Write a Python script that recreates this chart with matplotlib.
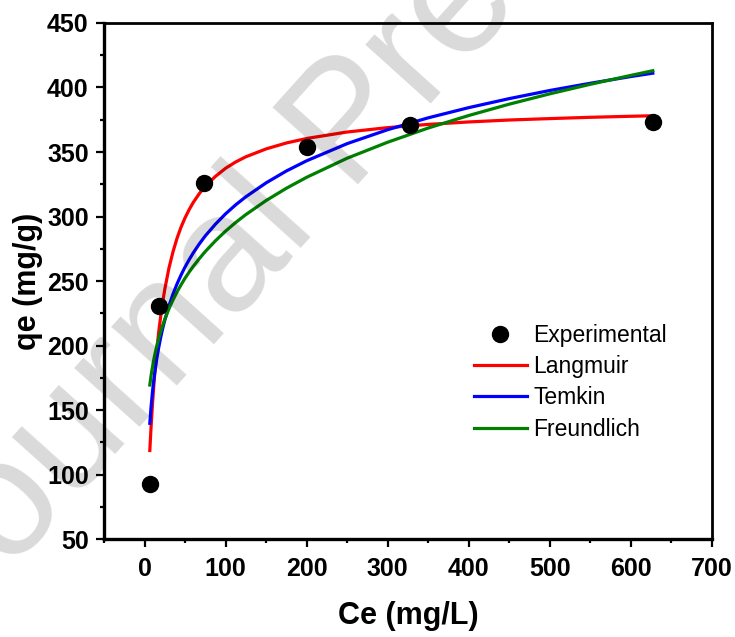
import numpy as np
import matplotlib
matplotlib.use("Agg")
import matplotlib.pyplot as plt
from matplotlib.ticker import MultipleLocator

plt.rcParams['font.family'] = ['Liberation Sans', 'DejaVu Sans']

# experimental points
ce_exp = [7, 18, 73, 200, 328, 627]
qe_exp = [93, 231, 326, 354, 371, 373]

# fitted curves, values
ce_fit = [6.5, 8, 10, 12, 15, 17.5, 20, 22.5, 25, 30, 35, 40, 45, 50, 55, 60,
          67.5, 75, 87.5, 100, 112.5, 125, 150, 175, 200, 250, 300, 350, 400,
          450, 500, 550, 600, 627]
q_langmuir = [118.6, 136.3, 156.6, 173.9, 195.4, 210.6, 223.0, 234.1, 243.7,
              259.7, 272.4, 283.0, 291.7, 299.0, 305.3, 310.8, 317.7, 323.6,
              331.1, 337.4, 342.3, 346.3, 352.4, 357.0, 360.5, 365.5, 368.9,
              371.4, 373.3, 374.8, 375.9, 376.9, 377.7, 378.1]
q_temkin = [139.7, 152.0, 165.3, 176.1, 189.4, 198.5, 206.5, 213.5, 219.7,
            230.5, 239.7, 247.6, 254.6, 260.9, 266.5, 271.7, 278.7, 285.0,
            294.1, 302.1, 309.1, 315.3, 326.1, 335.3, 343.2, 356.5, 367.3,
            376.5, 384.4, 391.4, 397.7, 403.3, 408.5, 411.1]
q_freundlich = [169.4, 176.4, 184.2, 190.9, 199.4, 205.6, 210.9, 215.8, 220.3,
                228.3, 235.2, 241.4, 247.0, 252.2, 256.9, 261.3, 267.3, 272.9,
                281.2, 288.7, 295.4, 301.5, 312.4, 321.9, 330.4, 345.2, 357.6,
                368.6, 378.3, 387.1, 395.1, 402.5, 409.4, 413.0]

fig = plt.figure(figsize=(7.35, 6.37), dpi=100, facecolor='white')
ax = fig.add_axes([0.1415, 0.1538, 0.8272, 0.8101])

ax.plot(ce_exp, qe_exp, 'o', color='black', markersize=11.5, label='Experimental', zorder=5)
ax.plot(ce_fit, q_langmuir, color='#ff0000', lw=2.3, label='Langmuir')
ax.plot(ce_fit, q_temkin, color='#0000ff', lw=2.3, label='Temkin')
ax.plot(ce_fit, q_freundlich, color='#008000', lw=2.3, label='Freundlich')

ax.set_xlim(-50, 700)
ax.set_ylim(50, 450)
ax.xaxis.set_major_locator(MultipleLocator(100))
ax.xaxis.set_minor_locator(MultipleLocator(50))
ax.yaxis.set_major_locator(MultipleLocator(50))
ax.yaxis.set_minor_locator(MultipleLocator(25))

ax.tick_params(which='both', direction='out', top=False, right=False, width=1.6)
ax.tick_params(which='major', length=6, labelsize=18)
ax.tick_params(which='minor', length=3)
ax.tick_params(axis='x', which='major', pad=7)
ax.tick_params(axis='y', which='major', pad=5)
for lab in ax.get_xticklabels() + ax.get_yticklabels():
    lab.set_fontweight('bold')
for side in ['left', 'bottom']:
    ax.spines[side].set_linewidth(2.4)
for side in ['top', 'right']:
    ax.spines[side].set_linewidth(2.0)

ax.set_xlabel('Ce (mg/L)', fontsize=22, fontweight='bold', labelpad=14)
ax.set_ylabel('qe (mg/g)', fontsize=22, fontweight='bold', labelpad=3)

ax.legend(loc='upper left', bbox_to_anchor=(0.6450, 0.4915), bbox_transform=fig.transFigure,
          frameon=False, fontsize=16.5, borderpad=0, borderaxespad=0,
          handlelength=2.3, handletextpad=0.28, labelspacing=0.36, markerscale=1.0)

# watermark
fig.text(0.478, 0.80, 'Journal Pre-proof', fontsize=120, color='black', alpha=0.15,
         rotation=48, ha='center', va='center', zorder=10)

fig.savefig('out.png', dpi=100, facecolor='white')
